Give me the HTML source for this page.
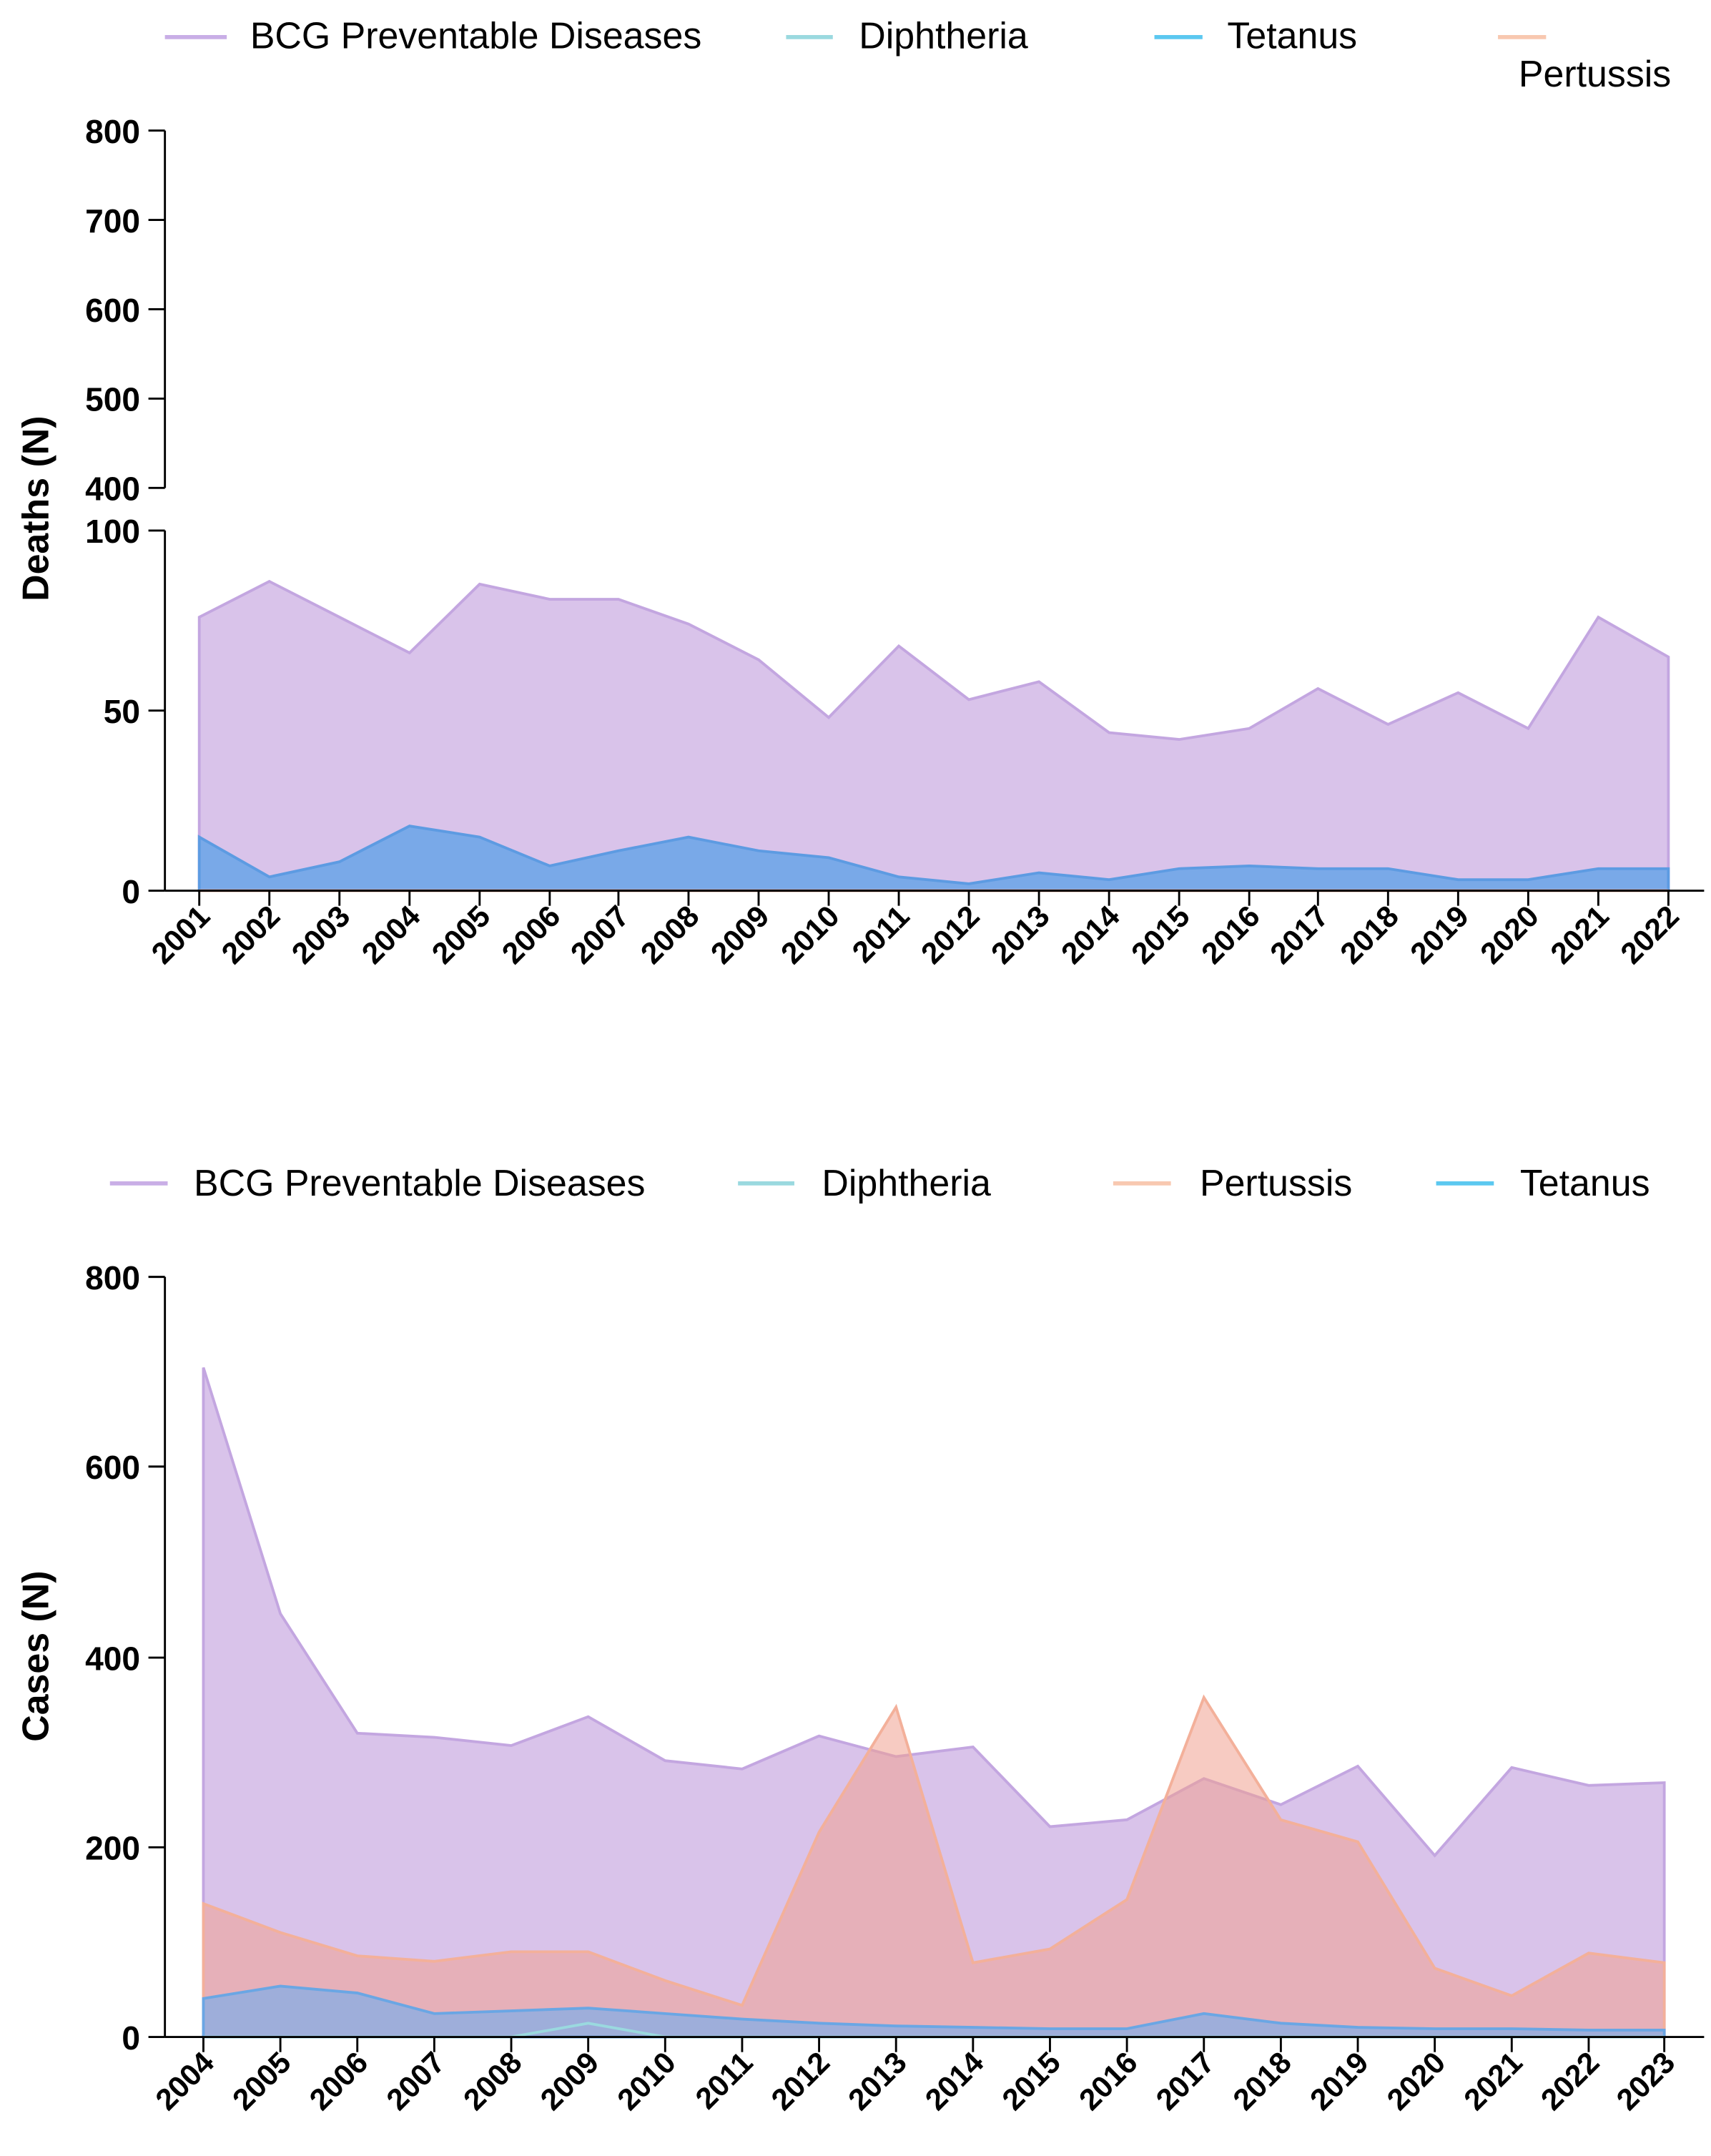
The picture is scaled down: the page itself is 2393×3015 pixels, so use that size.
<!DOCTYPE html>
<html><head><meta charset="utf-8"><style>
html,body{margin:0;padding:0;background:#fff;}
svg{display:block;}
text{font-family:"Liberation Sans",Arial,sans-serif;fill:#000;}
.t{font-size:24px;font-weight:bold;}
.x{font-size:22px;font-weight:bold;}
.l{font-size:27px;}
.ax{font-size:27px;font-weight:bold;}
</style></head><body>
<svg width="2393" height="3015" viewBox="0 0 1245 1568.6" xmlns="http://www.w3.org/2000/svg">
<g stroke-width="3">
<line x1="120" y1="27" x2="165" y2="27" stroke="#c9aee6"/>
<line x1="572" y1="27" x2="606" y2="27" stroke="#9ad9df"/>
<line x1="840" y1="27" x2="875" y2="27" stroke="#5cc8f0"/>
<line x1="1090" y1="27" x2="1125" y2="27" stroke="#f8c8b0"/>
</g>
<text class="l" x="182" y="35">BCG Preventable Diseases</text>
<text class="l" x="625" y="35">Diphtheria</text>
<text class="l" x="893" y="35">Tetanus</text>
<text class="l" x="1105" y="63">Pertussis</text>
<polygon fill="#d9c3ea" stroke="#c3a6e0" stroke-width="2" points="145,648 145,449 196,423 247,449 298,475 349,425 400,436 450,436 501,454 552,480 603,522 654,470 705,509 756,496 807,533 858,538 909,530 959,501 1010,527 1061,504 1112,530 1163,449 1214,478 1214,648"/>
<polygon fill="#f3a894" fill-opacity="0.6" points="145,648 145,635 196,645 247,648 909,648 959,638 1010,648 1214,648"/>
<polygon fill="#79a9e8" stroke="#5d9be2" stroke-width="2" points="145,648 145,609 196,638 247,627 298,601 349,609 400,630 450,619 501,609 552,619 603,624 654,638 705,643 756,635 807,640 858,632 909,630 959,632 1010,632 1061,640 1112,640 1163,632 1214,632 1214,648"/>
<line x1="145" y1="648" x2="1214" y2="648" stroke="#f3a894" stroke-width="2"/>
<g stroke="#000" stroke-width="1.5" fill="none">
<line x1="120" y1="95" x2="120" y2="355"/>
<line x1="120" y1="386" x2="120" y2="648"/>
<line x1="120" y1="648" x2="1240" y2="648"/>
<line x1="108" y1="95" x2="120" y2="95"/><line x1="108" y1="160" x2="120" y2="160"/><line x1="108" y1="225" x2="120" y2="225"/><line x1="108" y1="290" x2="120" y2="290"/><line x1="108" y1="355" x2="120" y2="355"/>
<line x1="108" y1="386" x2="120" y2="386"/><line x1="108" y1="517" x2="120" y2="517"/><line x1="108" y1="648" x2="120" y2="648"/>
</g>
<g text-anchor="end">
<text class="t" x="102" y="104">800</text><text class="t" x="102" y="169">700</text><text class="t" x="102" y="234">600</text><text class="t" x="102" y="299">500</text><text class="t" x="102" y="364">400</text><text class="t" x="102" y="395">100</text><text class="t" x="102" y="526">50</text><text class="t" x="102" y="657">0</text>
</g>
<text class="ax" transform="translate(35,370) rotate(-90)" text-anchor="middle">Deaths (N)</text>

<g stroke-width="3">
<line x1="80" y1="861" x2="122" y2="861" stroke="#c9aee6"/>
<line x1="537" y1="861" x2="578" y2="861" stroke="#9ad9df"/>
<line x1="810" y1="861" x2="852" y2="861" stroke="#f8c8b0"/>
<line x1="1045" y1="861" x2="1087" y2="861" stroke="#5cc8f0"/>
</g>
<text class="l" x="141" y="870">BCG Preventable Diseases</text>
<text class="l" x="598" y="870">Diphtheria</text>
<text class="l" x="873" y="870">Pertussis</text>
<text class="l" x="1106" y="870">Tetanus</text>

<polygon fill="#d9c3ea" stroke="#c3a6e0" stroke-width="2" points="148,1482 148,995 204,1174 260,1261 316,1264 372,1270 428,1249 484,1281 540,1287 596,1263 652,1278 708,1271 764,1329 820,1324 876,1294 932,1313 988,1285 1044,1350 1100,1286 1156,1299 1211,1297 1211,1482"/>
<polygon fill="#f0a090" fill-opacity="0.55" stroke="#f3b09a" stroke-width="2" points="148,1482 148,1385 204,1406 260,1423 316,1427 372,1420 428,1420 484,1441 540,1459 596,1333 652,1242 708,1428 764,1418 820,1382 876,1235 932,1324 988,1340 1044,1432 1100,1452 1156,1421 1211,1428 1211,1482"/>
<polygon fill="#85aee6" fill-opacity="0.75" stroke="#6aa6e4" stroke-width="2" points="148,1482 148,1454 204,1445 260,1450 316,1465 372,1463 428,1461 484,1465 540,1469 596,1472 652,1474 708,1475 764,1476 820,1476 876,1465 932,1472 988,1475 1044,1476 1100,1476 1156,1477 1211,1477 1211,1482"/>
<polyline fill="none" stroke="#9ad9df" stroke-width="2" points="148,1482 372,1482 428,1472 484,1482 1211,1482"/>
<g stroke="#000" stroke-width="1.5">
<line x1="120" y1="929" x2="120" y2="1482"/>
<line x1="120" y1="1482" x2="1240" y2="1482"/>
<line x1="108" y1="929" x2="120" y2="929"/><line x1="108" y1="1067" x2="120" y2="1067"/><line x1="108" y1="1206" x2="120" y2="1206"/><line x1="108" y1="1344" x2="120" y2="1344"/><line x1="108" y1="1482" x2="120" y2="1482"/>
</g>
<text class="t" x="102" y="938" text-anchor="end">800</text>
<text class="t" x="102" y="1076" text-anchor="end">600</text>
<text class="t" x="102" y="1215" text-anchor="end">400</text>
<text class="t" x="102" y="1353" text-anchor="end">200</text>
<text class="t" x="102" y="1491" text-anchor="end">0</text>
<text class="ax" transform="translate(35,1205) rotate(-90)" text-anchor="middle">Cases (N)</text>

<g stroke="#000" stroke-width="1.5">
<line x1="145" y1="648" x2="145" y2="659"/><line x1="196" y1="648" x2="196" y2="659"/><line x1="247" y1="648" x2="247" y2="659"/><line x1="298" y1="648" x2="298" y2="659"/><line x1="349" y1="648" x2="349" y2="659"/><line x1="400" y1="648" x2="400" y2="659"/><line x1="450" y1="648" x2="450" y2="659"/><line x1="501" y1="648" x2="501" y2="659"/><line x1="552" y1="648" x2="552" y2="659"/><line x1="603" y1="648" x2="603" y2="659"/><line x1="654" y1="648" x2="654" y2="659"/><line x1="705" y1="648" x2="705" y2="659"/><line x1="756" y1="648" x2="756" y2="659"/><line x1="807" y1="648" x2="807" y2="659"/><line x1="858" y1="648" x2="858" y2="659"/><line x1="909" y1="648" x2="909" y2="659"/><line x1="959" y1="648" x2="959" y2="659"/><line x1="1010" y1="648" x2="1010" y2="659"/><line x1="1061" y1="648" x2="1061" y2="659"/><line x1="1112" y1="648" x2="1112" y2="659"/><line x1="1163" y1="648" x2="1163" y2="659"/><line x1="1214" y1="648" x2="1214" y2="659"/>
</g>
<g text-anchor="end">
<text class="x" transform="translate(154,668) rotate(-45)">2001</text><text class="x" transform="translate(205,668) rotate(-45)">2002</text><text class="x" transform="translate(256,668) rotate(-45)">2003</text><text class="x" transform="translate(307,668) rotate(-45)">2004</text><text class="x" transform="translate(358,668) rotate(-45)">2005</text><text class="x" transform="translate(409,668) rotate(-45)">2006</text><text class="x" transform="translate(459,668) rotate(-45)">2007</text><text class="x" transform="translate(510,668) rotate(-45)">2008</text><text class="x" transform="translate(561,668) rotate(-45)">2009</text><text class="x" transform="translate(612,668) rotate(-45)">2010</text><text class="x" transform="translate(663,668) rotate(-45)">2011</text><text class="x" transform="translate(714,668) rotate(-45)">2012</text><text class="x" transform="translate(765,668) rotate(-45)">2013</text><text class="x" transform="translate(816,668) rotate(-45)">2014</text><text class="x" transform="translate(867,668) rotate(-45)">2015</text><text class="x" transform="translate(918,668) rotate(-45)">2016</text><text class="x" transform="translate(968,668) rotate(-45)">2017</text><text class="x" transform="translate(1019,668) rotate(-45)">2018</text><text class="x" transform="translate(1070,668) rotate(-45)">2019</text><text class="x" transform="translate(1121,668) rotate(-45)">2020</text><text class="x" transform="translate(1172,668) rotate(-45)">2021</text><text class="x" transform="translate(1223,668) rotate(-45)">2022</text>
</g>
<g stroke="#000" stroke-width="1.5">
<line x1="148" y1="1482" x2="148" y2="1493"/><line x1="204" y1="1482" x2="204" y2="1493"/><line x1="260" y1="1482" x2="260" y2="1493"/><line x1="316" y1="1482" x2="316" y2="1493"/><line x1="372" y1="1482" x2="372" y2="1493"/><line x1="428" y1="1482" x2="428" y2="1493"/><line x1="484" y1="1482" x2="484" y2="1493"/><line x1="540" y1="1482" x2="540" y2="1493"/><line x1="596" y1="1482" x2="596" y2="1493"/><line x1="652" y1="1482" x2="652" y2="1493"/><line x1="708" y1="1482" x2="708" y2="1493"/><line x1="764" y1="1482" x2="764" y2="1493"/><line x1="820" y1="1482" x2="820" y2="1493"/><line x1="876" y1="1482" x2="876" y2="1493"/><line x1="932" y1="1482" x2="932" y2="1493"/><line x1="988" y1="1482" x2="988" y2="1493"/><line x1="1044" y1="1482" x2="1044" y2="1493"/><line x1="1100" y1="1482" x2="1100" y2="1493"/><line x1="1156" y1="1482" x2="1156" y2="1493"/><line x1="1211" y1="1482" x2="1211" y2="1493"/>
</g>
<g text-anchor="end">
<text class="x" transform="translate(157,1502) rotate(-45)">2004</text><text class="x" transform="translate(213,1502) rotate(-45)">2005</text><text class="x" transform="translate(269,1502) rotate(-45)">2006</text><text class="x" transform="translate(325,1502) rotate(-45)">2007</text><text class="x" transform="translate(381,1502) rotate(-45)">2008</text><text class="x" transform="translate(437,1502) rotate(-45)">2009</text><text class="x" transform="translate(493,1502) rotate(-45)">2010</text><text class="x" transform="translate(549,1502) rotate(-45)">2011</text><text class="x" transform="translate(605,1502) rotate(-45)">2012</text><text class="x" transform="translate(661,1502) rotate(-45)">2013</text><text class="x" transform="translate(717,1502) rotate(-45)">2014</text><text class="x" transform="translate(773,1502) rotate(-45)">2015</text><text class="x" transform="translate(829,1502) rotate(-45)">2016</text><text class="x" transform="translate(885,1502) rotate(-45)">2017</text><text class="x" transform="translate(941,1502) rotate(-45)">2018</text><text class="x" transform="translate(997,1502) rotate(-45)">2019</text><text class="x" transform="translate(1053,1502) rotate(-45)">2020</text><text class="x" transform="translate(1109,1502) rotate(-45)">2021</text><text class="x" transform="translate(1165,1502) rotate(-45)">2022</text><text class="x" transform="translate(1220,1502) rotate(-45)">2023</text>
</g>
</svg>
</body></html>
